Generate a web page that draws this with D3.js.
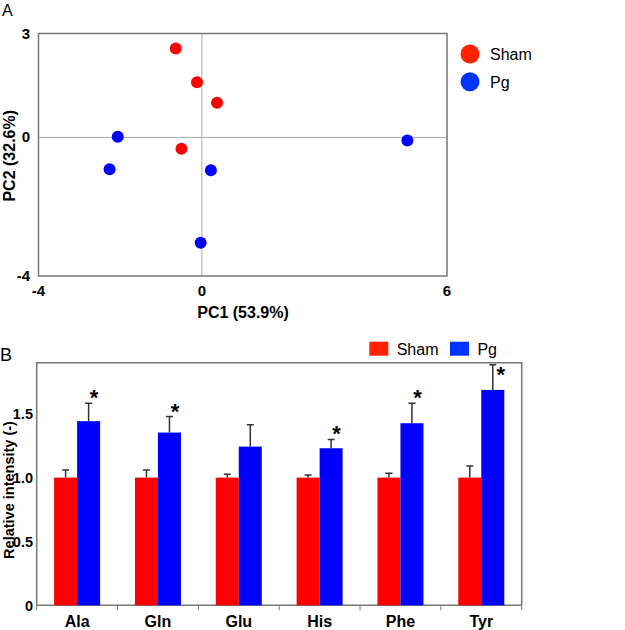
<!DOCTYPE html>
<html>
<head>
<meta charset="utf-8">
<script src="https://cdn.jsdelivr.net/npm/d3@7"></script>
<style>
  html, body { margin: 0; padding: 0; background: #fff; }
  svg { display: block; font-family: "Liberation Sans", Arial, sans-serif; }
</style>
</head>
<body>
<svg id="chart" width="625" height="630"></svg>
<script>
// ---------- Panel A data (PCA scores) ----------
const shamPC1 = [-0.64, -0.12, 0.37, -0.50];
const shamPC2 = [2.57, 1.59, 1.00, -0.33];
const pgPC1 = [-2.06, -2.26, 0.22, -0.03, 5.03];
const pgPC2 = [0.02, -0.92, -0.95, -3.04, -0.09];
const pcaXTicks = [-4, 0, 6];
const pcaYTicks = [3, 0, -4];
const groupNames = ["Sham", "Pg"];

// ---------- Panel B data (relative intensity) ----------
const aminoAcids = ["Ala", "Gln", "Glu", "His", "Phe", "Tyr"];
const shamMean = [1.0, 1.0, 1.0, 1.0, 1.0, 1.0];
const shamErr = [0.06, 0.06, 0.027, 0.02, 0.035, 0.09];
const pgMean = [1.442, 1.353, 1.243, 1.23, 1.426, 1.687];
const pgErr = [0.141, 0.125, 0.172, 0.068, 0.157, 0.196];
const significant = [true, true, false, true, true, true];
const starLevel = [1.666, 1.556, null, 1.384, 1.666, 1.84];
const barYTicks = [0, 0.5, 1.0, 1.5];
const barYTickLabels = ["0", "0.5", "1.0", "1.5"];

const svg = d3.select("#chart");
const RED = "#ff0000", BLUE = "#0000ff";
const LEG_RED = "#ff2200", LEG_BLUE = "#0033ff";
const FRAME = "#777";

// ================= Panel A =================
const A = { left: 38.5, right: 447, top: 33.5, bottom: 276 };
const xA = d3.scaleLinear().domain([-4, 6]).range([A.left, A.right]);
const yA = d3.scaleLinear().domain([-4, 3]).range([A.bottom, A.top]);
const gA = svg.append("g");

gA.append("text").attr("x", 2).attr("y", 16).attr("font-size", 16).text("A");

// zero lines
gA.append("line").attr("x1", xA(0)).attr("x2", xA(0)).attr("y1", A.top).attr("y2", A.bottom)
  .attr("stroke", "#aaa").attr("stroke-width", 1);
gA.append("line").attr("x1", A.left).attr("x2", A.right).attr("y1", yA(0)).attr("y2", yA(0))
  .attr("stroke", "#aaa").attr("stroke-width", 1);
// frame
gA.append("rect").attr("x", A.left).attr("y", A.top).attr("width", A.right - A.left).attr("height", A.bottom - A.top)
  .attr("fill", "none").attr("stroke", FRAME).attr("stroke-width", 1.5);

// tick labels
gA.selectAll(".xt").data(pcaXTicks).join("text")
  .attr("x", d => xA(d)).attr("y", 296).attr("text-anchor", "middle")
  .attr("font-size", 15).attr("font-weight", "bold").text(d => d);
gA.selectAll(".yt").data(pcaYTicks).join("text")
  .attr("x", 30).attr("y", d => yA(d) + 5).attr("text-anchor", "end")
  .attr("font-size", 15).attr("font-weight", "bold").text(d => d);

gA.append("text").attr("x", 243).attr("y", 318).attr("text-anchor", "middle")
  .attr("font-size", 16).attr("font-weight", "bold").text("PC1 (53.9%)");
gA.append("text").attr("transform", `translate(15,${(A.top + A.bottom) / 2 + 1}) rotate(-90)`)
  .attr("text-anchor", "middle").attr("font-size", 16).attr("font-weight", "bold").text("PC2 (32.6%)");

// points
const shamPts = shamPC1.map((v, i) => [v, shamPC2[i]]);
const pgPts = pgPC1.map((v, i) => [v, pgPC2[i]]);
gA.selectAll(".sham").data(shamPts).join("circle")
  .attr("cx", d => xA(d[0])).attr("cy", d => yA(d[1])).attr("r", 6).attr("fill", RED);
gA.selectAll(".pg").data(pgPts).join("circle")
  .attr("cx", d => xA(d[0])).attr("cy", d => yA(d[1])).attr("r", 6).attr("fill", BLUE);

// legend A
const legA = gA.selectAll(".legA").data(groupNames).join("g")
  .attr("transform", (d, i) => `translate(470,${54 + i * 27.7})`);
legA.append("circle").attr("r", 9.5).attr("fill", (d, i) => i === 0 ? LEG_RED : LEG_BLUE);
legA.append("text").attr("x", 20).attr("y", 6).attr("font-size", 16).text(d => d);

// ================= Panel B =================
const B = { left: 36.7, right: 521.7, top: 362.7, bottom: 605.3 };
const x0 = d3.scaleBand().domain(aminoAcids).range([B.left, B.right]).padding(0);
const x1 = d3.scaleBand().domain(groupNames).range([0, x0.bandwidth()]).paddingInner(0).paddingOuter(0.757);
const yB = d3.scaleLinear().domain([0, 1.9]).range([B.bottom, B.top]);
const gB = svg.append("g");

gB.append("text").attr("x", 0).attr("y", 361).attr("font-size", 18).text("B");

// frame lines
gB.append("path").attr("d", `M${B.left},${B.bottom}V${B.top}H${B.right}V${B.bottom}`)
  .attr("fill", "none").attr("stroke", FRAME).attr("stroke-width", 1.5);
gB.append("line").attr("x1", B.left).attr("x2", B.right).attr("y1", B.bottom).attr("y2", B.bottom)
  .attr("stroke", FRAME).attr("stroke-width", 1.5);
// category tick marks
const bounds = aminoAcids.map(a => x0(a)).concat([B.right]);
gB.selectAll(".ctick").data(bounds).join("line")
  .attr("x1", d => d).attr("x2", d => d).attr("y1", B.bottom).attr("y2", B.bottom + 5)
  .attr("stroke", FRAME).attr("stroke-width", 1);
// y tick labels
gB.selectAll(".ytl").data(barYTicks).join("text")
  .attr("x", 33).attr("y", d => yB(d) + 5.5).attr("text-anchor", "end")
  .attr("font-size", 14.5).attr("font-weight", "bold").text((d, i) => barYTickLabels[i]);
gB.selectAll(".xtl").data(aminoAcids).join("text")
  .attr("x", d => x0(d) + x0.bandwidth() / 2).attr("y", 627).attr("text-anchor", "middle")
  .attr("font-size", 16).attr("font-weight", "bold").text(d => d);

gB.append("text").attr("transform", `translate(13.5,490) rotate(-90)`)
  .attr("text-anchor", "middle").attr("font-size", 14.5).attr("font-weight", "bold").text("Relative intensity (-)");

// bars
const rows = aminoAcids.map((a, i) => ({
  a, vals: [
    { g: "Sham", m: shamMean[i], e: shamErr[i] },
    { g: "Pg", m: pgMean[i], e: pgErr[i] }
  ], sig: significant[i], star: starLevel[i]
}));
const grp = gB.selectAll(".grp").data(rows).join("g").attr("transform", d => `translate(${x0(d.a)},0)`);
grp.selectAll("rect").data(d => d.vals).join("rect")
  .attr("x", d => x1(d.g)).attr("width", x1.bandwidth())
  .attr("y", d => yB(d.m)).attr("height", d => yB(0) - yB(d.m))
  .attr("fill", d => d.g === "Sham" ? RED : BLUE);
// error bars (upper only)
grp.selectAll(".eb").data(d => d.vals).join("path")
  .attr("d", d => {
    const cx = x1(d.g) + x1.bandwidth() / 2;
    const yt = yB(d.m + d.e);
    return `M${cx},${yB(d.m)}V${yt}M${cx - 3.5},${yt}H${cx + 3.5}`;
  })
  .attr("fill", "none").attr("stroke", "#333").attr("stroke-width", 1.5);
// asterisks
grp.filter(d => d.sig).append("text")
  .attr("x", d => x1("Pg") + x1.bandwidth() / 2 + (d.a === "Tyr" ? 8 : 5.5))
  .attr("y", d => yB(d.star) + 12)
  .attr("text-anchor", "middle").attr("font-size", 22).attr("font-weight", "bold").text("*");

// legend B
const legB = gB.selectAll(".legB").data(groupNames).join("g")
  .attr("transform", (d, i) => `translate(${369.3 + i * 80.7},341.7)`);
legB.append("rect").attr("width", 19).attr("height", 14).attr("fill", (d, i) => i === 0 ? LEG_RED : LEG_BLUE);
legB.append("text").attr("x", 27.4).attr("y", 13.5).attr("font-size", 16).text(d => d);
</script>
</body>
</html>
